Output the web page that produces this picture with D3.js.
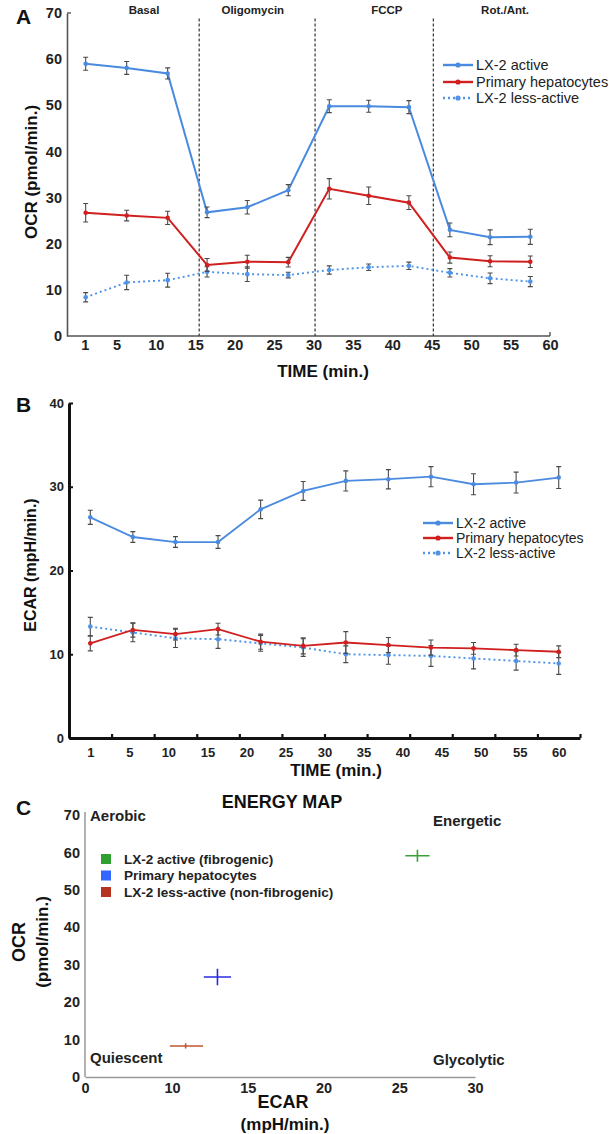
<!DOCTYPE html>
<html>
<head>
<meta charset="utf-8">
<script src="https://cdn.jsdelivr.net/npm/d3@7"></script>
<style>
  body { margin: 0; background: #fff; }
  svg { display: block; font-family: Arial, "Liberation Sans", Helvetica, sans-serif; }
</style>
</head>
<body>
<script>
// ---------------------------------------------------------------
// data
// ---------------------------------------------------------------

// A: oxygen consumption rate (pmol/min.)
const timeA = [1.1, 6.3, 11.5, 16.5, 21.6, 26.8, 32.0, 37.0, 42.1, 47.3, 52.4, 57.5];
const ocrActive    = [59.0, 58.1, 56.9, 26.8, 27.9, 31.6, 49.8, 49.8, 49.6, 23.0, 21.4, 21.5];
const ocrActiveErr = [1.4, 1.4, 1.2, 1.15, 1.45, 1.2, 1.4, 1.3, 1.4, 1.5, 1.6, 1.65];
const ocrHep       = [26.7, 26.1, 25.6, 15.4, 16.1, 16.0, 31.9, 30.4, 28.9, 17.0, 16.2, 16.1];
const ocrHepErr    = [2.0, 1.15, 1.45, 1.4, 1.4, 1.05, 2.2, 1.9, 1.5, 1.2, 1.2, 1.25];
const ocrLess      = [8.4, 11.6, 12.1, 13.9, 13.4, 13.2, 14.3, 14.9, 15.2, 13.7, 12.5, 11.8];
const ocrLessErr   = [1.0, 1.55, 1.5, 1.1, 1.6, 0.6, 0.9, 0.7, 0.8, 0.9, 1.15, 1.1];
const injections = [15.5, 30.2, 45.2];
const phases = ["Basal", "Oligomycin", "FCCP", "Rot./Ant."];
const phaseTimes = [8.5, 22.3, 39.3, 54.3];
const ticksA = [1, 5, 10, 15, 20, 25, 30, 35, 40, 45, 50, 55, 60];
const yTicksA = [0, 10, 20, 30, 40, 50, 60, 70];

// B: extracellular acidification rate (mpH/min.)
const timeB = [2.5, 7.5, 12.5, 17.5, 22.5, 27.5, 32.5, 37.5, 42.5, 47.5, 52.5, 57.5];
const ecarActive    = [26.35, 24.0, 23.4, 23.4, 27.3, 29.5, 30.7, 30.9, 31.2, 30.3, 30.5, 31.1];
const ecarActiveErr = [0.84, 0.64, 0.64, 0.76, 1.1, 1.13, 1.2, 1.15, 1.2, 1.25, 1.25, 1.3];
const ecarHep       = [11.3, 12.9, 12.4, 13.0, 11.5, 11.0, 11.4, 11.1, 10.8, 10.7, 10.5, 10.3];
const ecarHepErr    = [0.9, 0.85, 0.7, 0.7, 0.9, 0.95, 1.3, 0.9, 0.9, 0.7, 0.7, 0.7];
const ecarLess      = [13.3, 12.6, 11.9, 11.8, 11.3, 10.8, 10.0, 9.9, 9.8, 9.5, 9.2, 8.9];
const ecarLessErr   = [1.1, 1.1, 1.1, 1.1, 0.95, 1.05, 1.0, 1.1, 1.25, 1.25, 1.1, 1.3];
const tickLabelsB = ["1", "5", "10", "15", "20", "25", "30", "35", "40", "45", "50", "55", "60"];
const yTicksB = [0, 10, 20, 30, 40];

// C: energy map (mean ECAR vs OCR)
const mapGroups  = ["LX-2 active (fibrogenic)", "Primary hepatocytes", "LX-2 less-active (non-fibrogenic)"];
const mapEcar    = [26.2, 13.0, 10.9];
const mapEcarErr = [0.8, 0.9, 1.15];
const mapOcr     = [59.1, 26.7, 8.3];
const mapOcrErr  = [1.6, 2.2, 0.7];
const xTicksC = [0, 10, 15, 20, 25, 30];
const yTicksC = [0, 10, 20, 30, 40, 50, 60, 70];
const quadrants = ["Aerobic", "Energetic", "Quiescent", "Glycolytic"];

const seriesNames = ["LX-2 active", "Primary hepatocytes", "LX-2 less-active"];

// ---------------------------------------------------------------
// styles
// ---------------------------------------------------------------
const blue = "#4a8be0", red = "#d01f1f", errColor = "#4a4a4a";
const styles = [
    { color: blue, dash: null },
    { color: red, dash: null },
    { color: "#4f94e8", dash: "2,3" }
];
const mapColors = ["#3aa13a", "#2b2be6", "#c0582f"];
const mapSwatch = ["#2fa02f", "#3366ff", "#b83220"];

const svg = d3.select("body").append("svg")
    .attr("width", 609)
    .attr("height", 1134);

function panelLetter(txt, x, y) {
    svg.append("text")
        .attr("x", x).attr("y", y)
        .attr("font-size", 21).attr("font-weight", "bold")
        .attr("fill", "#111")
        .text(txt);
}

// draws line + error bars + dots for one series
function drawSeries(g, xs, vals, errs, x, y, st, width) {
    const pts = xs.map((t, i) => ({ t: t, v: vals[i], e: errs[i] }));
    let line = d3.line().x(d => x(d.t)).y(d => y(d.v));
    g.append("path")
        .attr("d", line(pts))
        .attr("fill", "none")
        .attr("stroke", st.color)
        .attr("stroke-width", width)
        .attr("stroke-dasharray", st.dash);
    let eb = g.append("g")
        .attr("stroke", errColor)
        .attr("stroke-width", 1.1);
    eb.selectAll(".eb")
        .data(pts)
        .join("path")
            .attr("class", "eb")
            .attr("d", d => {
                let cx = x(d.t), y0 = y(d.v - d.e), y1 = y(d.v + d.e);
                return `M${cx},${y0}V${y1}M${cx - 2.5},${y0}H${cx + 2.5}M${cx - 2.5},${y1}H${cx + 2.5}`;
            });
    g.selectAll(null)
        .data(pts)
        .join("circle")
            .attr("cx", d => x(d.t))
            .attr("cy", d => y(d.v))
            .attr("r", 2.3)
            .attr("fill", st.color);
}

function legend(g, x0, rows, fontSize) {
    seriesNames.forEach((name, i) => {
        let row = g.append("g").attr("transform", `translate(${x0},${rows[i]})`);
        row.append("line")
            .attr("x1", 0).attr("x2", 30)
            .attr("stroke", styles[i].color)
            .attr("stroke-width", 2.4)
            .attr("stroke-dasharray", styles[i].dash);
        row.append("circle")
            .attr("cx", 15).attr("r", 2.6)
            .attr("fill", styles[i].color);
        row.append("text")
            .attr("x", 33).attr("dy", "0.35em")
            .attr("font-size", fontSize)
            .attr("fill", "#222")
            .text(name);
    });
}

function styleTicks(axisG, size, color) {
    axisG.selectAll("text")
        .attr("font-size", size)
        .attr("font-weight", "bold")
        .attr("fill", color)
        .attr("font-family", null);
}

// ---------------------------------------------------------------
// A: OCR
// ---------------------------------------------------------------
{
    const xA = d3.scaleLinear().domain([0, 60]).range([77, 550]);
    const yA = d3.scaleLinear().domain([0, 70]).range([336, 13]);
    const axisLeftX = 67;
    const gA = svg.append("g");

    panelLetter("A", 16, 24);

    // x axis
    gA.append("line")
        .attr("x1", axisLeftX).attr("x2", xA(60))
        .attr("y1", yA(0)).attr("y2", yA(0))
        .attr("stroke", "#555").attr("stroke-width", 1.6);
    gA.append("line")
        .attr("x1", xA(60)).attr("x2", xA(60))
        .attr("y1", yA(0)).attr("y2", yA(0) - 4)
        .attr("stroke", "#555").attr("stroke-width", 1.4);
    let xAxisA = gA.append("g")
        .attr("transform", `translate(0,${yA(0)})`)
        .call(d3.axisBottom(xA).tickValues(ticksA).tickSize(0).tickPadding(4));
    xAxisA.select(".domain").remove();
    styleTicks(xAxisA, 14.5, "#222");

    // y axis
    let yAxisA = gA.append("g")
        .attr("transform", `translate(${axisLeftX},0)`)
        .call(d3.axisLeft(yA).tickValues(yTicksA).tickSizeInner(0).tickSizeOuter(0).tickPadding(5));
    yAxisA.select(".domain").attr("stroke", "#555").attr("stroke-width", 1.6);
    styleTicks(yAxisA, 14.5, "#222");
    gA.append("line")
        .attr("x1", axisLeftX).attr("x2", axisLeftX + 4)
        .attr("y1", yA(70)).attr("y2", yA(70))
        .attr("stroke", "#555").attr("stroke-width", 1.4);

    // injection markers
    gA.selectAll(".inj")
        .data(injections)
        .join("line")
            .attr("class", "inj")
            .attr("x1", d => xA(d)).attr("x2", d => xA(d))
            .attr("y1", yA(68.8)).attr("y2", yA(0))
            .attr("stroke", "#333")
            .attr("stroke-width", 1.2)
            .attr("stroke-dasharray", "3,2");

    gA.selectAll(".phase")
        .data(phases)
        .join("text")
            .attr("class", "phase")
            .attr("x", (d, i) => xA(phaseTimes[i]))
            .attr("y", 14)
            .attr("text-anchor", "middle")
            .attr("font-size", 11.5)
            .attr("font-weight", "bold")
            .attr("fill", "#222")
            .text(d => d);

    drawSeries(gA, timeA, ocrLess, ocrLessErr, xA, yA, styles[2], 1.9);
    drawSeries(gA, timeA, ocrHep, ocrHepErr, xA, yA, styles[1], 2);
    drawSeries(gA, timeA, ocrActive, ocrActiveErr, xA, yA, styles[0], 2);

    legend(gA, 443, [65, 82, 98], 14.5);

    gA.append("text")
        .attr("x", 323).attr("y", 377)
        .attr("text-anchor", "middle")
        .attr("font-size", 17).attr("font-weight", "bold")
        .attr("fill", "#111")
        .text("TIME (min.)");
    gA.append("text")
        .attr("transform", "translate(37,172) rotate(-90)")
        .attr("text-anchor", "middle")
        .attr("font-size", 17).attr("font-weight", "bold")
        .attr("fill", "#111")
        .text("OCR (pmol/min.)");
}

// ---------------------------------------------------------------
// B: ECAR
// ---------------------------------------------------------------
{
    const xB = d3.scaleLinear().domain([0, 60]).range([69, 580]);
    const yB = d3.scaleLinear().domain([0, 40]).range([738, 403]);
    const labelB = d3.scalePoint()
        .domain(tickLabelsB)
        .range([xB(timeB[0]), xB(timeB[timeB.length - 1])]);
    const gB = svg.append("g");

    panelLetter("B", 16, 412);

    // x axis: evenly spaced tick marks, labels spread between first and last point
    let xAxisB = gB.append("g")
        .attr("transform", `translate(0,${yB(0)})`)
        .call(d3.axisBottom(xB).ticks(12).tickSizeInner(-4).tickSizeOuter(0).tickFormat(""));
    xAxisB.select(".domain").attr("stroke", "#111").attr("stroke-width", 3);
    xAxisB.selectAll(".tick line").attr("stroke", "#111").attr("stroke-width", 2.2);
    let xLabB = gB.append("g")
        .attr("transform", `translate(0,${yB(0)})`)
        .call(d3.axisBottom(labelB).tickSize(0).tickPadding(10));
    xLabB.select(".domain").remove();
    styleTicks(xLabB, 13, "#222");

    let yAxisB = gB.append("g")
        .attr("transform", `translate(${xB(0)},0)`)
        .call(d3.axisLeft(yB).tickValues(yTicksB).tickSizeInner(-4).tickSizeOuter(0).tickPadding(5));
    yAxisB.select(".domain").attr("stroke", "#111").attr("stroke-width", 3);
    yAxisB.selectAll(".tick line").attr("stroke", "#111").attr("stroke-width", 2);
    styleTicks(yAxisB, 13, "#222");

    drawSeries(gB, timeB, ecarLess, ecarLessErr, xB, yB, styles[2], 1.9);
    drawSeries(gB, timeB, ecarHep, ecarHepErr, xB, yB, styles[1], 1.8);
    drawSeries(gB, timeB, ecarActive, ecarActiveErr, xB, yB, styles[0], 1.8);

    legend(gB, 423, [523, 538, 553], 14);

    gB.append("text")
        .attr("x", 336).attr("y", 776)
        .attr("text-anchor", "middle")
        .attr("font-size", 17).attr("font-weight", "bold")
        .attr("fill", "#111")
        .text("TIME (min.)");
    gB.append("text")
        .attr("transform", "translate(36,565) rotate(-90)")
        .attr("text-anchor", "middle")
        .attr("font-size", 16).attr("font-weight", "bold")
        .attr("fill", "#111")
        .text("ECAR (mpH/min.)");
}

// ---------------------------------------------------------------
// C: energy map
// ---------------------------------------------------------------
{
    // axis labels on the figure are not evenly spaced below 10
    const xC = d3.scaleLinear().domain([0, 10, 30]).range([85, 172, 475]);
    const yC = d3.scaleLinear().domain([0, 70]).range([1077, 815]);
    const gC = svg.append("g");

    panelLetter("C", 16, 815);

    let xAxisC = gC.append("g")
        .attr("transform", `translate(0,${yC(0)})`)
        .call(d3.axisBottom(xC).tickValues(xTicksC).tickSize(0).tickPadding(6));
    xAxisC.select(".domain").attr("stroke", "#999").attr("stroke-width", 1.5);
    styleTicks(xAxisC, 14.5, "#222");

    let yAxisC = gC.append("g")
        .attr("transform", `translate(${xC(0)},0)`)
        .call(d3.axisLeft(yC).tickValues(yTicksC).tickSize(0).tickPadding(5));
    yAxisC.select(".domain").attr("stroke", "#999").attr("stroke-width", 1.5)
        .attr("d", `M0,${yC(0)}V${yC(70) - 3}`);
    styleTicks(yAxisC, 14.5, "#222");

    gC.append("text")
        .attr("x", 282).attr("y", 808)
        .attr("text-anchor", "middle")
        .attr("font-size", 18).attr("font-weight", "bold")
        .attr("fill", "#111")
        .text("ENERGY MAP");

    // quadrant captions
    const qPos = [[90, 821], [433, 826], [90, 1063], [433, 1065]];
    gC.selectAll(".quad")
        .data(quadrants)
        .join("text")
            .attr("class", "quad")
            .attr("x", (d, i) => qPos[i][0])
            .attr("y", (d, i) => qPos[i][1])
            .attr("font-size", 15).attr("font-weight", "bold")
            .attr("fill", "#222")
            .text(d => d);

    // legend
    mapGroups.forEach((name, i) => {
        let row = gC.append("g").attr("transform", `translate(101,${859 + i * 16.5})`);
        row.append("rect")
            .attr("x", 0).attr("y", -5)
            .attr("width", 10).attr("height", 10)
            .attr("fill", mapSwatch[i]);
        row.append("text")
            .attr("x", 23).attr("dy", "0.36em")
            .attr("font-size", 13.5).attr("font-weight", "bold")
            .attr("fill", "#222")
            .text(name);
    });

    // crosses: mean with error in both directions
    gC.selectAll(".cross")
        .data(mapGroups)
        .join("path")
            .attr("class", "cross")
            .attr("fill", "none")
            .attr("stroke", (d, i) => mapColors[i])
            .attr("stroke-width", 1.6)
            .attr("d", (d, i) => {
                let cx = xC(mapEcar[i]), cy = yC(mapOcr[i]);
                return `M${xC(mapEcar[i] - mapEcarErr[i])},${cy}H${xC(mapEcar[i] + mapEcarErr[i])}` +
                       `M${cx},${yC(mapOcr[i] - mapOcrErr[i])}V${yC(mapOcr[i] + mapOcrErr[i])}`;
            });

    gC.append("text")
        .attr("x", 283).attr("y", 1108)
        .attr("text-anchor", "middle")
        .attr("font-size", 18).attr("font-weight", "bold")
        .attr("fill", "#111")
        .text("ECAR");
    gC.append("text")
        .attr("x", 285).attr("y", 1130)
        .attr("text-anchor", "middle")
        .attr("font-size", 17).attr("font-weight", "bold")
        .attr("fill", "#111")
        .text("(mpH/min.)");
    gC.append("text")
        .attr("transform", "translate(25,942) rotate(-90)")
        .attr("text-anchor", "middle")
        .attr("font-size", 18).attr("font-weight", "bold")
        .attr("fill", "#111")
        .text("OCR");
    gC.append("text")
        .attr("transform", "translate(48,942) rotate(-90)")
        .attr("text-anchor", "middle")
        .attr("font-size", 17).attr("font-weight", "bold")
        .attr("fill", "#111")
        .text("(pmol/min.)");
}
</script>
</body>
</html>
